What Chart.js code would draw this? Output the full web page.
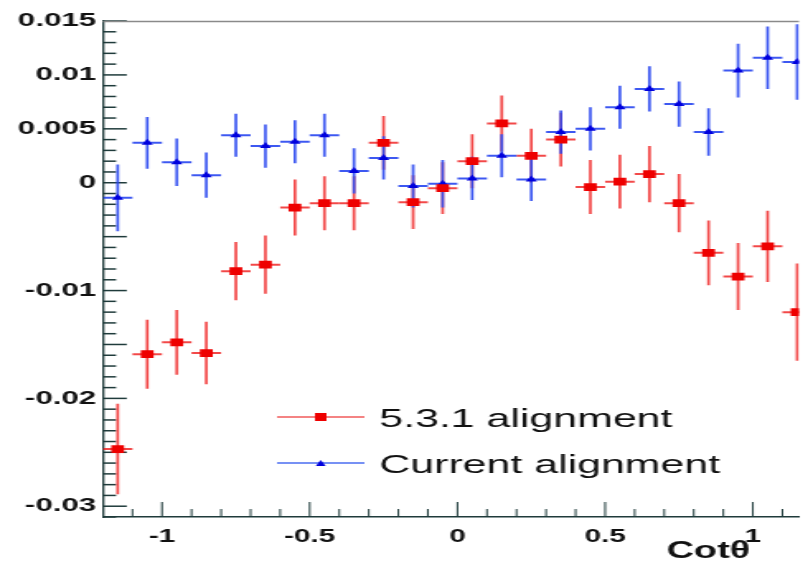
<!DOCTYPE html>
<html>
<head>
<meta charset="utf-8">
<script src="https://cdn.jsdelivr.net/npm/chart.js@4"></script>
<style>
  html, body { margin: 0; padding: 0; background: #fff; }
  /* the original picture is stretched sideways, so the canvas is too */
  #plot { width: 808px !important; height: 565px !important; display: block; }
</style>
</head>
<body>
<canvas id="plot" width="490" height="565" style="width:808px;height:565px"></canvas>
<script>
// bin centres in cot(theta)
const binCenters = [-1.15, -1.05, -0.95, -0.85, -0.75, -0.65, -0.55, -0.45, -0.35, -0.25, -0.15, -0.05,
                    0.05, 0.15, 0.25, 0.35, 0.45, 0.55, 0.65, 0.75, 0.85, 0.95, 1.05, 1.15];
const binHalfWidth = 0.05;

// 5.3.1 alignment (red squares)
const oldValues = [-0.0247, -0.0159, -0.0148, -0.0158, -0.0082, -0.0076, -0.0023, -0.0019, -0.0019, 0.0037, -0.0018, -0.0005,
                   0.0020, 0.0055, 0.0025, 0.0040, -0.0004, 0.0001, 0.0008, -0.0019, -0.0065, -0.0087, -0.0059, -0.0120];
const oldErrors = [0.0042, 0.0032, 0.0030, 0.0029, 0.0027, 0.0027, 0.0026, 0.0025, 0.0025, 0.0025, 0.0025, 0.0024,
                   0.0025, 0.0026, 0.0025, 0.0025, 0.0025, 0.0025, 0.0026, 0.0027, 0.0030, 0.0031, 0.0033, 0.0045];

// Current alignment (blue triangles)
const newValues = [-0.0014, 0.0037, 0.0019, 0.0007, 0.0044, 0.0034, 0.0038, 0.0044, 0.0011, 0.0023, -0.0003, -0.0001,
                   0.0004, 0.0025, 0.0003, 0.0047, 0.0050, 0.0070, 0.0087, 0.0073, 0.0047, 0.0104, 0.0116, 0.0112];
const newErrors = [0.0031, 0.0024, 0.0022, 0.0021, 0.0020, 0.0020, 0.0020, 0.0020, 0.0021, 0.0020, 0.0020, 0.0022,
                   0.0020, 0.0020, 0.0020, 0.0020, 0.0020, 0.0020, 0.0021, 0.0021, 0.0022, 0.0025, 0.0029, 0.0035];

const yTickLabels = [0.015, 0.01, 0.005, 0, -0.01, -0.02, -0.03];
const xTickLabels = [-1, -0.5, 0, 0.5, 1];
const xTitle = 'Cotθ';
const legendLabels = ['5.3.1 alignment', 'Current alignment'];

const axisColor = '#1f3b3b';

function toPoints(values) {
  return binCenters.map((x, i) => ({ x: x, y: values[i] }));
}

// error bars + inward ticks + frame, drawn through the scales
const errorBarPlugin = {
  id: 'errorBars',
  beforeDatasetsDraw(chart) {
    const { ctx, chartArea, scales } = chart;
    const xs = scales.x, ys = scales.y;

    // inward tick marks
    ctx.save();
    ctx.strokeStyle = axisColor;
    for (let i = -31; i <= 15; i++) {
      const v = i / 1000;
      const py = ys.getPixelForValue(v);
      const len = (i % 5 === 0) ? 14.5 : 8;
      ctx.lineWidth = 1.5;
      ctx.beginPath();
      ctx.moveTo(chartArea.left, py);
      ctx.lineTo(chartArea.left + len, py);
      ctx.stroke();
    }
    for (let i = -11; i <= 11; i++) {
      const v = i / 10;
      const px = xs.getPixelForValue(v);
      const len = (i % 5 === 0) ? 15 : 8;
      ctx.lineWidth = 1;
      ctx.beginPath();
      ctx.moveTo(px, chartArea.bottom);
      ctx.lineTo(px, chartArea.bottom - len);
      ctx.stroke();
    }
    // top frame
    ctx.strokeStyle = '#8a8a8a';
    ctx.lineWidth = 1.5;
    ctx.beginPath();
    ctx.moveTo(chartArea.left, chartArea.top + 0.5);
    ctx.lineTo(chartArea.right, chartArea.top + 0.5);
    ctx.stroke();
    ctx.restore();

    ctx.save();
    ctx.beginPath();
    ctx.rect(chartArea.left, chartArea.top, chartArea.right - chartArea.left, chartArea.bottom - chartArea.top);
    ctx.clip();
    chart.data.datasets.forEach(ds => {
      ctx.strokeStyle = ds.errorColor;
      ds.data.forEach((p, i) => {
        const err = ds.errors[i];
        const px = xs.getPixelForValue(p.x);
        const py = ys.getPixelForValue(p.y);
        ctx.lineWidth = 1.7;
        ctx.beginPath();
        ctx.moveTo(px, ys.getPixelForValue(p.y - err));
        ctx.lineTo(px, ys.getPixelForValue(p.y + err));
        ctx.stroke();
        ctx.lineWidth = 2;
        ctx.beginPath();
        ctx.moveTo(xs.getPixelForValue(p.x - binHalfWidth), py);
        ctx.lineTo(xs.getPixelForValue(p.x + binHalfWidth), py);
        ctx.stroke();
      });
    });
    ctx.restore();
  },
  afterDraw(chart) {
    const { ctx } = chart;
    ctx.save();
    // legend
    const rows = [{ y: 417 }, { y: 463 }];
    chart.data.datasets.forEach((ds, i) => {
      const y = rows[i].y;
      ctx.strokeStyle = ds.legendLine;
      ctx.lineWidth = 1.5;
      ctx.beginPath();
      ctx.moveTo(168, y);
      ctx.lineTo(221, y);
      ctx.stroke();
      ctx.fillStyle = ds.pointBackgroundColor;
      if (ds.pointStyle === 'rect') {
        ctx.fillRect(191, y - 4, 7, 8);
      } else {
        ctx.beginPath();
        ctx.moveTo(191.5, y + 3);
        ctx.lineTo(197.5, y + 3);
        ctx.lineTo(194.5, y - 3);
        ctx.closePath();
        ctx.fill();
      }
      ctx.fillStyle = '#111';
      ctx.font = '26px "Liberation Sans", Arial, sans-serif';
      ctx.textBaseline = 'alphabetic';
      ctx.textAlign = 'left';
      ctx.fillText(legendLabels[i], 230, y + 10);
    });
    // x axis title
    ctx.font = 'bold 23px "Liberation Sans", Arial, sans-serif';
    ctx.textAlign = 'right';
    ctx.fillStyle = '#111';
    ctx.fillText(xTitle, 455, 558);
    ctx.restore();
  }
};

new Chart(document.getElementById('plot'), {
  type: 'scatter',
  data: {
    datasets: [
      {
        label: legendLabels[0],
        data: toPoints(oldValues),
        errors: oldErrors,
        errorColor: 'rgba(240, 40, 40, 0.85)',
        legendLine: '#f05a5a',
        pointStyle: 'rect',
        pointRadius: 5.5,
        pointBackgroundColor: '#ee0000',
        pointBorderWidth: 0,
        showLine: false
      },
      {
        label: legendLabels[1],
        data: toPoints(newValues),
        errors: newErrors,
        errorColor: 'rgba(40, 70, 240, 0.9)',
        legendLine: '#4a6cf0',
        pointStyle: 'triangle',
        pointRadius: 4,
        pointBackgroundColor: '#0000dd',
        pointBorderWidth: 0,
        showLine: false
      }
    ]
  },
  options: {
    responsive: false,
    animation: false,
    devicePixelRatio: 1,
    layout: { padding: { top: 21, right: 0, left: 0, bottom: 0 } },
    plugins: {
      legend: { display: false },
      tooltip: { enabled: false }
    },
    scales: {
      x: {
        type: 'linear',
        min: -1.2,
        max: 1.156,
        grid: { display: false, drawTicks: false },
        border: { display: true, color: axisColor, width: 1.5 },
        afterBuildTicks: s => { s.ticks = xTickLabels.map(v => ({ value: v })); },
        afterFit: s => { s.height = 48; },
        ticks: {
          padding: 9,
          color: '#111',
          font: { family: '"Liberation Sans", Arial, sans-serif', size: 18, weight: 'bold' },
          callback: v => String(v)
        }
      },
      y: {
        type: 'linear',
        min: -0.031,
        max: 0.015,
        grid: { display: false, drawTicks: false },
        border: { display: true, color: axisColor, width: 1.3 },
        afterBuildTicks: s => { s.ticks = yTickLabels.map(v => ({ value: v })); },
        afterFit: s => { s.width = 62.4; },
        ticks: {
          padding: 4,
          color: '#111',
          font: { family: '"Liberation Sans", Arial, sans-serif', size: 19, weight: 'bold' },
          callback: v => String(v)
        }
      }
    }
  },
  plugins: [errorBarPlugin]
});
</script>
</body>
</html>
